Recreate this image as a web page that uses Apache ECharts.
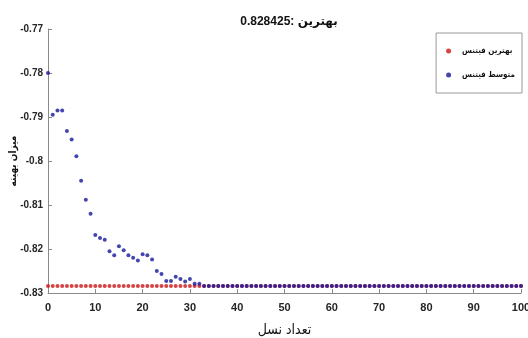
<!DOCTYPE html>
<html>
<head>
<meta charset="utf-8">
<script src="https://cdn.jsdelivr.net/npm/echarts@6/dist/echarts.min.js"></script>
<style>
html, body { margin: 0; padding: 0; background: #fff; }
#chart { width: 528px; height: 338px; }
</style>
</head>
<body>
<div id="chart"></div>
<script>
// متن‌ها
const titleText = '0.828425: بهترین'
const xName = 'تعداد نسل'
const yName = 'میزان بهینه'
const seriesNames = ['بهترین فیتنس', 'متوسط فیتنس']

// محورها: [min, max, interval]
const xRange = [0, 100, 10]
const yRange = [-0.83, -0.77, 0.01]

// بهترین فیتنس در هر نسل (0..100)
const bestFitness = [
    -0.8284, -0.8284, -0.8284, -0.8284, -0.8284, -0.8284, -0.8284, -0.8284, -0.8284, -0.8284,
    -0.8284, -0.8284, -0.8284, -0.8284, -0.8284, -0.8284, -0.8284, -0.8284, -0.8284, -0.8284,
    -0.8284, -0.8284, -0.8284, -0.8284, -0.8284, -0.8284, -0.8284, -0.8284, -0.8284, -0.8284,
    -0.8284, -0.8284, -0.8284, -0.8284, -0.8284, -0.8284, -0.8284, -0.8284, -0.8284, -0.8284,
    -0.8284, -0.8284, -0.8284, -0.8284, -0.8284, -0.8284, -0.8284, -0.8284, -0.8284, -0.8284,
    -0.8284, -0.8284, -0.8284, -0.8284, -0.8284, -0.8284, -0.8284, -0.8284, -0.8284, -0.8284,
    -0.8284, -0.8284, -0.8284, -0.8284, -0.8284, -0.8284, -0.8284, -0.8284, -0.8284, -0.8284,
    -0.8284, -0.8284, -0.8284, -0.8284, -0.8284, -0.8284, -0.8284, -0.8284, -0.8284, -0.8284,
    -0.8284, -0.8284, -0.8284, -0.8284, -0.8284, -0.8284, -0.8284, -0.8284, -0.8284, -0.8284,
    -0.8284, -0.8284, -0.8284, -0.8284, -0.8284, -0.8284, -0.8284, -0.8284, -0.8284, -0.8284,
    -0.8284
]

// متوسط فیتنس در هر نسل (0..100)
const meanFitness = [
    -0.7800, -0.7895, -0.7885, -0.7885, -0.7932, -0.7951, -0.7989, -0.8045, -0.8088, -0.8120,
    -0.8168, -0.8175, -0.8179, -0.8205, -0.8214, -0.8194, -0.8203, -0.8214, -0.8220, -0.8226,
    -0.8212, -0.8214, -0.8224, -0.8250, -0.8257, -0.8273, -0.8273, -0.8263, -0.8268, -0.8274,
    -0.8268, -0.8279, -0.8279, -0.8284, -0.8284, -0.8284, -0.8284, -0.8284, -0.8284, -0.8284,
    -0.8284, -0.8284, -0.8284, -0.8284, -0.8284, -0.8284, -0.8284, -0.8284, -0.8284, -0.8284,
    -0.8284, -0.8284, -0.8284, -0.8284, -0.8284, -0.8284, -0.8284, -0.8284, -0.8284, -0.8284,
    -0.8284, -0.8284, -0.8284, -0.8284, -0.8284, -0.8284, -0.8284, -0.8284, -0.8284, -0.8284,
    -0.8284, -0.8284, -0.8284, -0.8284, -0.8284, -0.8284, -0.8284, -0.8284, -0.8284, -0.8284,
    -0.8284, -0.8284, -0.8284, -0.8284, -0.8284, -0.8284, -0.8284, -0.8284, -0.8284, -0.8284,
    -0.8284, -0.8284, -0.8284, -0.8284, -0.8284, -0.8284, -0.8284, -0.8284, -0.8284, -0.8284,
    -0.8284
]

const labelFont = "'Liberation Sans Narrow', 'Liberation Sans', 'DejaVu Sans', sans-serif"
const arabicFont = "'DejaVu Sans Condensed', 'DejaVu Sans', sans-serif"
const axisColor = '#8a8a8a'

const chart = echarts.init(document.getElementById('chart'))

chart.setOption({
    animation: false,
    title: {
        text: titleText,
        left: 284,
        top: 11,
        textAlign: 'center',
        textStyle: { fontFamily: labelFont, fontSize: 12, fontWeight: 'bold', color: '#111' }
    },
    legend: {
        orient: 'vertical',
        right: 6,
        top: 33,
        borderColor: '#999',
        borderWidth: 1,
        padding: [14, 7, 14, 10],
        itemGap: 16,
        itemWidth: 5,
        itemHeight: 5,
        icon: 'circle',
        textStyle: { fontFamily: arabicFont, fontSize: 8, fontWeight: 'bold', color: '#111', padding: [0, 0, 0, 6] }
    },
    grid: { left: 48, right: 7, top: 29, bottom: 45, outerBoundsMode: 'none' },
    xAxis: {
        type: 'value',
        min: xRange[0],
        max: xRange[1],
        interval: xRange[2],
        name: xName,
        nameLocation: 'middle',
        nameGap: 30,
        nameMoveOverlap: false,
        nameTextStyle: { fontFamily: arabicFont, fontSize: 14, color: '#111' },
        axisLine: { show: true, onZero: false, lineStyle: { color: axisColor } },
        axisTick: { show: true, inside: true, length: 4, lineStyle: { color: axisColor } },
        axisLabel: { fontFamily: labelFont, fontSize: 11, fontWeight: 'bold', color: '#262626', margin: 9 },
        splitLine: { show: false }
    },
    yAxis: {
        type: 'value',
        min: yRange[0],
        max: yRange[1],
        interval: yRange[2],
        name: yName,
        nameLocation: 'middle',
        nameGap: 30,
        nameMoveOverlap: false,
        nameTextStyle: { fontFamily: arabicFont, fontSize: 10, fontWeight: 'bold', color: '#111' },
        axisLine: { show: true, onZero: false, lineStyle: { color: axisColor } },
        axisTick: { show: true, inside: true, length: 4, lineStyle: { color: axisColor } },
        axisLabel: { fontFamily: labelFont, fontSize: 10, fontWeight: 'bold', color: '#262626', margin: 5 },
        splitLine: { show: false }
    },
    series: [
        {
            name: seriesNames[0],
            type: 'scatter',
            symbolSize: 4,
            itemStyle: { color: '#cc1414' },
            data: bestFitness.map((v, i) => [i, v])
        },
        {
            name: seriesNames[1],
            type: 'scatter',
            symbolSize: 4,
            itemStyle: { color: '#16169c' },
            data: meanFitness.map((v, i) => [i, v])
        }
    ]
})
</script>
</body>
</html>
